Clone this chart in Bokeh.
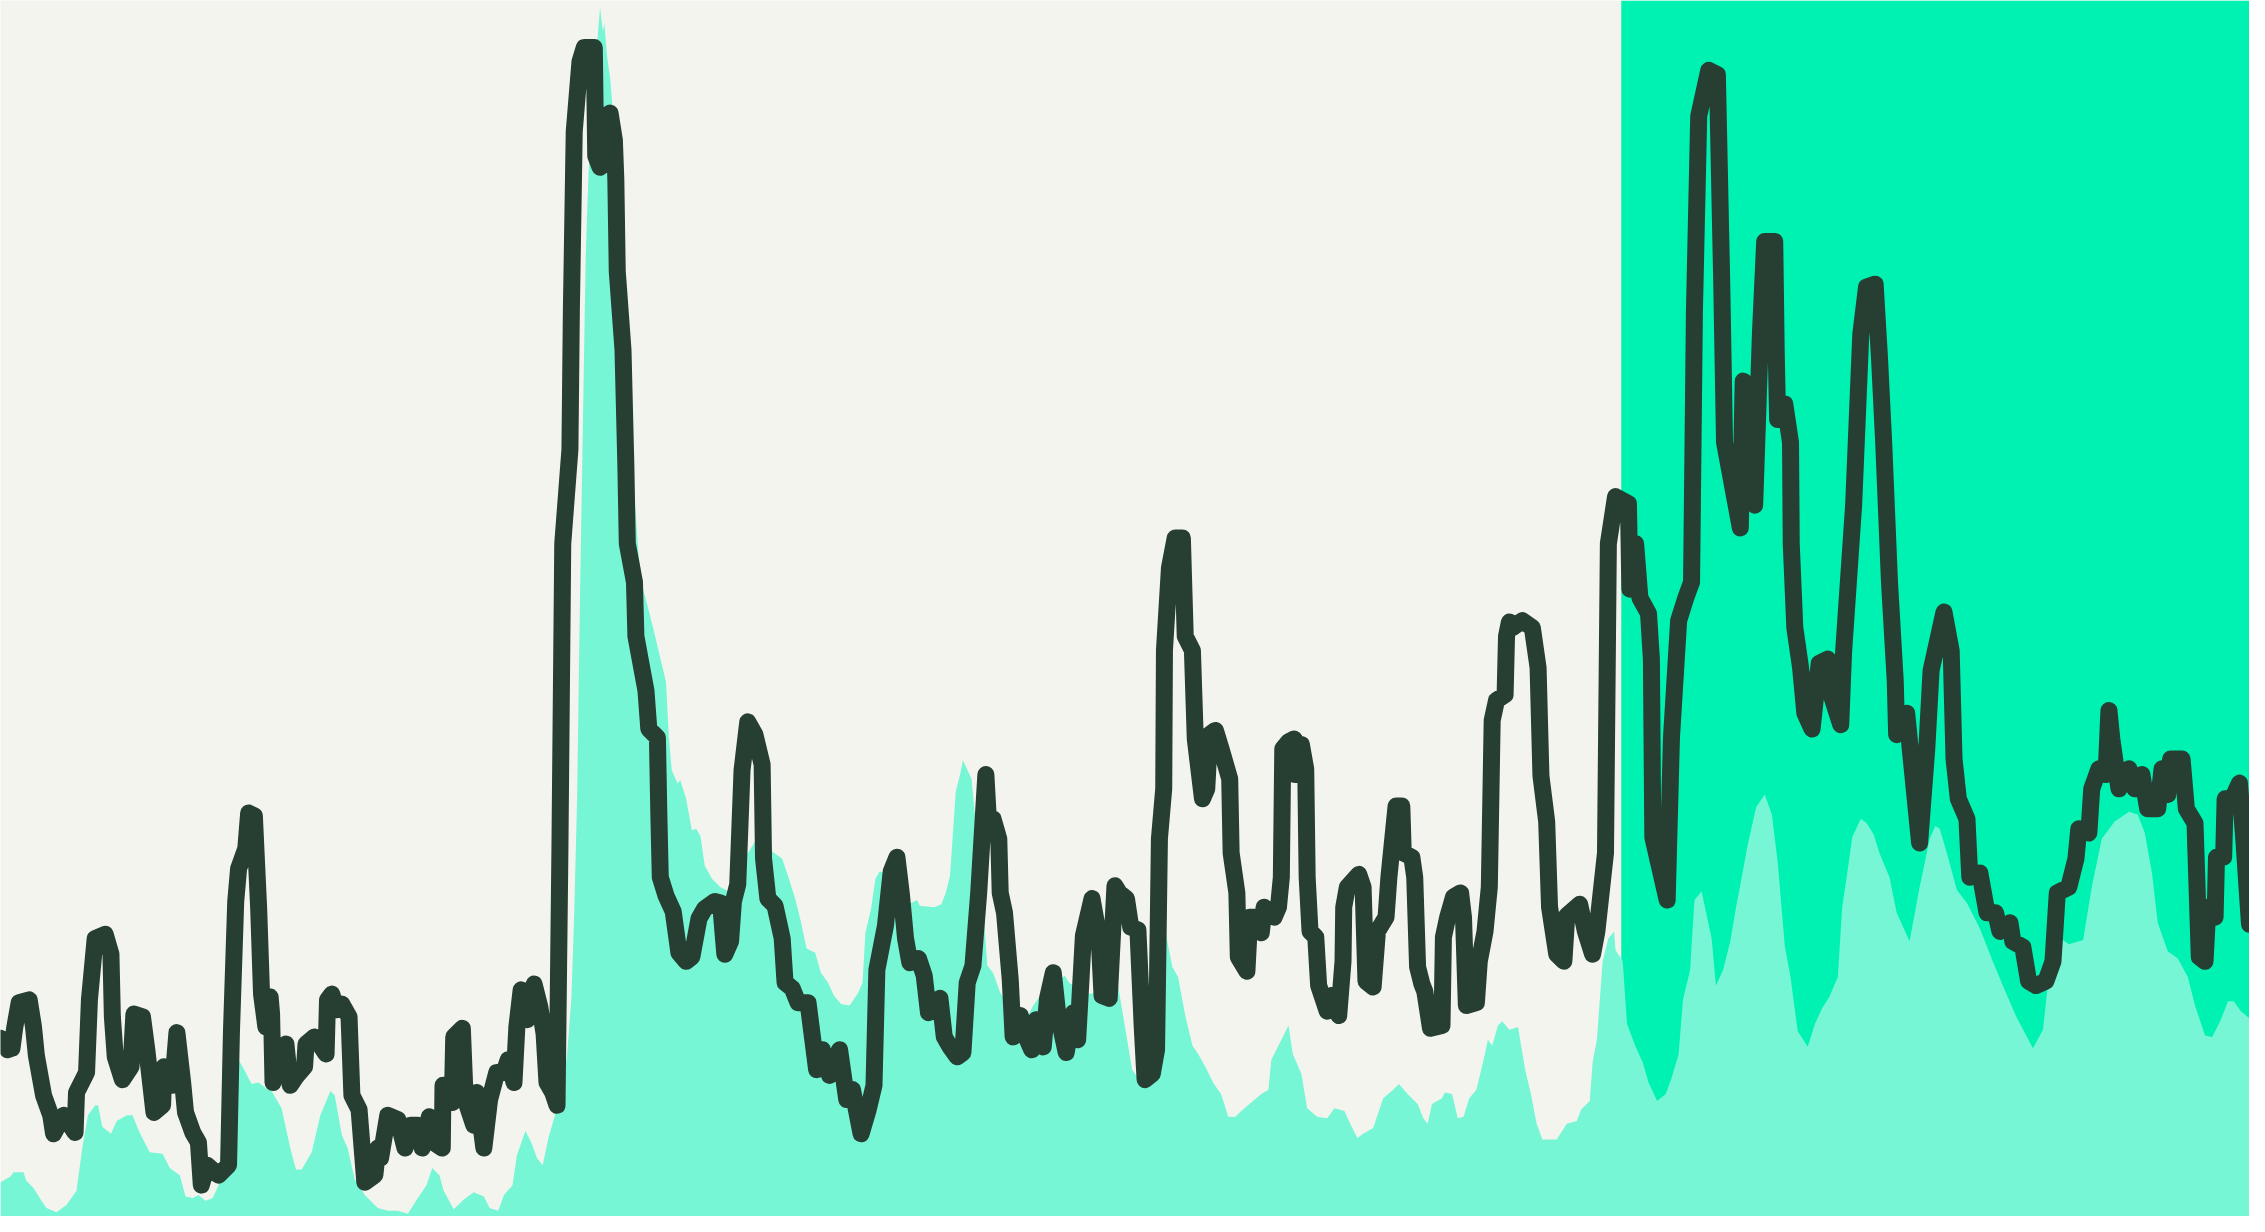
from bokeh.plotting import figure
from bokeh.models import Range1d, BoxAnnotation
from bokeh.embed import file_html
from bokeh.resources import INLINE

# ---- data (time index, depth below the top of the frame; larger = lower) ----
line_t = [0, 5, 8, 10, 13, 20, 23, 25, 30, 35, 37, 44, 52, 53, 60, 62, 66, 73, 77, 78, 80, 85, 91, 93, 99,
          102, 107, 113, 114, 120, 123, 127, 129, 134, 138, 140, 144, 152, 159, 161, 164, 166, 171, 173, 177,
          180, 182, 185, 188, 189, 190, 194, 199, 202, 206, 212, 213, 219, 227, 228, 231, 234, 238, 243, 245,
          250, 254, 261, 263, 265, 270, 277, 282, 286, 291, 294, 299, 302, 308, 308.5, 315, 316, 322, 324, 330,
          332, 337, 341, 346, 351, 354, 358, 360, 363, 367, 372, 376, 379, 381, 385, 388, 390, 392, 397, 398,
          400, 404, 407, 414, 415, 418, 421, 425, 428, 429, 430, 434, 436, 437, 442, 443, 450, 452, 458, 459,
          460, 464, 469, 473, 478, 482, 487, 491, 498, 502, 505, 509, 511, 514, 517, 521, 526, 531, 532, 535,
          540, 545, 547, 552, 556, 563, 569, 573, 578, 585, 590, 594, 600, 605, 609, 611, 617, 621, 625, 628,
          631, 634, 640, 644, 647, 651, 655, 658, 662, 667, 671, 674, 678, 682, 687, 689, 692, 696, 697, 700,
          704, 706, 711, 715, 719, 722, 727, 730, 734, 737, 743, 748, 751, 755, 761, 766, 768, 773, 777, 780,
          785, 788, 793, 796, 798, 803, 806, 808, 811, 811.5, 815, 819, 824, 826, 831, 833, 838, 841, 843, 847,
          851, 857, 858, 862, 863, 869, 871, 874, 879, 881, 888, 891, 893, 894, 898, 902, 902.5, 907, 910, 911,
          913, 917, 919, 925, 928, 933, 936, 936.5, 939, 947, 950, 952, 957, 960, 966, 968, 973, 977, 978, 984,
          986, 988, 991, 993, 997, 1005, 1006, 1009, 1013, 1018, 1020, 1022, 1029, 1031, 1035, 1038, 1040, 1043,
          1049, 1050, 1052, 1054, 1061, 1068, 1072, 1074, 1078, 1080, 1085, 1090, 1092, 1101, 1105, 1110, 1113,
          1119, 1121, 1126, 1135, 1136, 1140, 1143, 1149, 1151, 1152, 1162, 1165, 1170, 1175, 1179, 1181, 1184,
          1191, 1197, 1200, 1202, 1209, 1213, 1215, 1221, 1222, 1223, 1227, 1230, 1237, 1238, 1239, 1244, 1248,
          1248.5, 1251, 1255, 1258, 1263, 1268, 1274, 1277, 1283, 1285, 1292, 1297, 1301, 1307, 1310, 1313, 1317,
          1321, 1322, 1329, 1338, 1343, 1346, 1355, 1360, 1362, 1365, 1371, 1373, 1380, 1385, 1391, 1394, 1401,
          1403, 1410, 1414, 1419, 1426, 1431, 1434, 1442, 1447, 1449, 1456, 1458, 1463, 1468, 1470, 1472, 1477,
          1484, 1488, 1493, 1497, 1504, 1507, 1511, 1513, 1521, 1524, 1530, 1533, 1537, 1539, 1544, 1545, 1550,
          1551, 1556, 1561, 1564, 1568]
line_v = [728, 736, 735, 720, 703, 701, 720, 740, 768, 782, 795, 782, 794, 766, 752, 701, 658, 655, 669, 713,
          741, 757, 748, 711, 713, 736, 780, 775, 748, 761, 724, 759, 780, 794, 801, 831, 817, 824, 817, 724,
          632, 609, 595, 570, 572, 637, 697, 720, 699, 711, 759, 748, 732, 761, 755, 748, 732, 727, 739, 701,
          697, 708, 704, 713, 768, 778, 829, 824, 805, 812, 782, 785, 805, 789, 789, 805, 783, 801, 805, 761,
          773, 727, 721, 771, 789, 766, 805, 771, 752, 752, 743, 759, 720, 694, 715, 690, 706, 725, 759, 766,
          775, 598, 381, 315, 218, 92, 43, 33, 33, 109, 117, 82, 79, 98, 125, 190, 245, 326, 381, 408,
          446, 484, 511, 517, 571, 615, 628, 639, 668, 674, 671, 644, 637, 632, 633, 669, 660, 632, 620, 540,
          506, 515, 536, 602, 630, 635, 658, 689, 693, 703, 703, 750, 736, 754, 736, 771, 764, 795, 778, 761,
          680, 649, 611, 601, 626, 658, 675, 672, 684, 710, 708, 700, 727, 734, 741, 738, 689, 677, 626, 543,
          579, 574, 588, 626, 640, 687, 727, 712, 727, 736, 715, 734, 700, 682, 710, 738, 710, 729, 656, 630,
          658, 698, 700, 621, 626, 630, 650, 652, 720, 757, 753, 736, 588, 553, 456, 398, 377, 377, 446, 456,
          518, 560, 553, 515, 512, 525, 546, 598, 626, 671, 681, 643, 643, 654, 636, 643, 636, 615, 525, 520,
          518, 543, 522, 539, 615, 653, 657, 691, 709, 698, 712, 674, 636, 622, 613, 622, 688, 692, 653, 643,
          615, 565, 565, 598, 601, 615, 678, 690, 695, 721, 719, 657, 643, 629, 626, 643, 705, 703, 674, 653,
          622, 505, 491, 487, 446, 436, 440, 435, 440, 468, 544, 576, 636, 669, 674, 642, 634, 653, 669, 653,
          598, 381, 348, 353, 413, 381, 419, 430, 462, 587, 631, 517, 435, 419, 408, 218, 81, 49, 52, 196,
          310, 348, 370, 267, 272, 326, 354, 234, 169, 169, 245, 294, 283, 310, 381, 440, 468, 500, 511, 465,
          462, 489, 508, 457, 354, 234, 201, 199, 250, 311, 408, 477, 515, 500, 591, 525, 470, 429, 456, 532,
          560, 574, 615, 612, 640, 640, 653, 647, 660, 664, 688, 691, 688, 674, 626, 622, 602, 581, 584, 553,
          539, 543, 498, 518, 553, 539, 553, 543, 567, 567, 539, 557, 532, 532, 567, 577, 671, 674, 636, 643,
          601, 601, 560, 560, 549, 588, 648]

area_t = [0, 7, 9, 16, 18, 23, 28, 32, 39, 46, 53, 57, 61, 66, 68, 71, 77, 81, 88, 92, 97, 104, 113, 118, 125,
          129, 134, 138, 143, 148, 152, 161, 166, 171, 175, 180, 185, 189, 196, 202, 206, 210, 217, 223, 230,
          233, 238, 242, 247, 254, 263, 270, 277, 284, 291, 297, 301, 306, 309, 316, 323, 330, 337, 341, 347,
          351, 357, 360, 366, 370, 374, 378, 382, 388, 392, 395, 398, 400, 402, 404, 406, 408, 410, 413, 416,
          418, 420, 421, 423, 425, 428, 431, 435, 440, 445, 448, 451, 455, 459, 464, 466, 468, 472, 474, 478,
          482, 485, 488, 491, 496, 502, 508, 514, 520, 526, 531, 535, 538, 545, 549, 554, 558, 562, 568, 572,
          577, 581, 586, 592, 598, 601, 603, 607, 610, 613, 618, 624, 630, 635, 639, 641, 651, 656, 659, 662,
          666, 669, 671, 677, 680, 684, 688, 692, 697, 703, 708, 715, 720, 725, 733, 742, 745, 757, 761, 767,
          773, 779, 784, 789, 794, 798, 803, 808, 812, 817, 821, 826, 831, 835, 840, 846, 851, 856, 861, 865,
          872, 879, 884, 886, 891, 898, 901, 907, 911, 918, 925, 930, 937, 941, 946, 950, 957, 964, 971, 975,
          981, 988, 992, 995, 998, 1005, 1007, 1012, 1016, 1020, 1024, 1029, 1034, 1037, 1040, 1044, 1047, 1052,
          1058, 1063, 1067, 1071, 1075, 1085, 1092, 1099, 1102, 1108, 1110, 1113, 1117, 1121, 1125, 1126, 1131,
          1134, 1140, 1145, 1149, 1155, 1161, 1165, 1170, 1173, 1178, 1181, 1186, 1189, 1193, 1196, 1201, 1206,
          1210, 1214, 1218, 1224, 1230, 1235, 1239, 1244, 1248, 1253, 1260, 1265, 1270, 1275, 1281, 1284, 1288,
          1291, 1297, 1301, 1306, 1310, 1317, 1322, 1331, 1338, 1345, 1349, 1352, 1357, 1364, 1371, 1380, 1389,
          1396, 1405, 1417, 1424, 1428, 1435, 1442, 1452, 1458, 1465, 1474, 1484, 1490, 1495, 1500, 1504, 1511,
          1518, 1525, 1530, 1537, 1542, 1548, 1553, 1557, 1562, 1568]
area_v = [829, 825, 822, 822, 828, 833, 841, 847, 850, 845, 835, 805, 782, 775, 775, 790, 795, 786, 782, 782,
          794, 808, 809, 819, 824, 839, 840, 838, 842, 840, 831, 794, 743, 752, 760, 759, 763, 765, 777, 805,
          820, 820, 808, 782, 765, 768, 796, 805, 827, 838, 847, 849, 849, 851, 840, 831, 819, 824, 835, 848,
          841, 836, 839, 847, 849, 838, 831, 810, 793, 801, 812, 817, 798, 777, 759, 740, 700, 640, 560, 420,
          300, 180, 120, 80, 30, 5, 22, 16, 40, 54, 90, 150, 230, 320, 390, 413, 424, 440, 457, 478,
          517, 540, 549, 547, 560, 582, 581, 586, 607, 616, 622, 625, 615, 600, 590, 588, 585, 597, 602, 614,
          630, 646, 665, 668, 682, 689, 698, 704, 705, 696, 689, 654, 637, 616, 611, 612, 620, 630, 633, 631,
          635, 636, 634, 626, 614, 555, 543, 533, 546, 578, 620, 677, 682, 696, 705, 712, 715, 705, 698, 692,
          684, 689, 696, 697, 690, 685, 690, 720, 750, 757, 712, 680, 660, 652, 678, 685, 712, 733, 739, 748,
          760, 767, 783, 783, 779, 773, 767, 764, 743, 733, 719, 739, 753, 777, 783, 784, 777, 779, 788, 798,
          795, 791, 770, 764, 760, 767, 774, 784, 788, 774, 770, 766, 767, 784, 783, 770, 764, 743, 729, 733,
          719, 716, 722, 720, 750, 767, 788, 799, 799, 788, 786, 778, 772, 745, 729, 674, 658, 653, 666, 674,
          718, 734, 745, 759, 772, 767, 756, 739, 701, 680, 631, 625, 639, 658, 691, 680, 660, 636, 615, 593,
          566, 557, 571, 604, 663, 685, 723, 734, 718, 707, 699, 685, 636, 609, 587, 574, 577, 585, 598, 615,
          640, 660, 622, 588, 579, 581, 598, 624, 633, 651, 674, 691, 712, 735, 722, 685, 657, 662, 659, 622,
          588, 576, 569, 571, 584, 612, 647, 667, 672, 685, 705, 726, 727, 715, 702, 702, 709, 714]

highlight_start = 1130

BG = "#F4F4EF"
HIGHLIGHT = "#00F2B2"
AREA = "#76F6D5"
LINE = "#273E32"

p = figure(width=2249, height=1216, output_backend="svg", toolbar_location=None,
           x_range=Range1d(0, 1568), y_range=Range1d(853, 0),
           min_border=0, min_border_left=0, min_border_right=0, min_border_top=0, min_border_bottom=0)
p.xaxis.visible = False
p.yaxis.visible = False
p.grid.visible = False
p.outline_line_color = None
p.background_fill_color = BG
p.border_fill_color = BG

box = BoxAnnotation(left=highlight_start, fill_color=HIGHLIGHT, fill_alpha=1.0, line_color=None, level="underlay")
p.add_layout(box)

p.varea(x=area_t, y1=853, y2=area_v, fill_color=AREA, fill_alpha=1.0)
p.line(line_t, line_v, line_color=LINE, line_width=17, line_join="round", line_cap="round")

open("out.html", "w").write(file_html(p, INLINE))
